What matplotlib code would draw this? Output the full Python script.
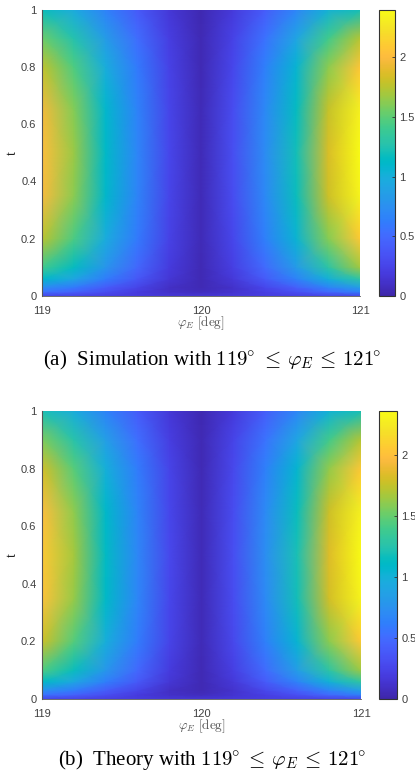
import numpy as np
import matplotlib
matplotlib.use("Agg")
import matplotlib.pyplot as plt
from matplotlib.colors import LinearSegmentedColormap

# ---------------- data ----------------
phi = [119.0, 119.2, 119.4, 119.6, 119.8, 120.0, 120.2, 120.4, 120.6, 120.8, 121.0]
t_vals = [0.0, 0.015, 0.03, 0.06, 0.1, 0.2, 0.35, 0.5, 0.65, 0.8, 0.9, 1.0]

sim_values = [
    [0.24, 0.23, 0.21, 0.19, 0.16, 0.15, 0.17, 0.20, 0.22, 0.23, 0.25],
    [0.55, 0.45, 0.31, 0.19, 0.11, 0.07, 0.13, 0.22, 0.33, 0.50, 0.65],
    [0.73, 0.60, 0.41, 0.25, 0.10, 0.04, 0.12, 0.27, 0.44, 0.67, 0.86],
    [1.11, 0.92, 0.62, 0.38, 0.15, 0.04, 0.17, 0.40, 0.66, 1.02, 1.32],
    [1.41, 1.16, 0.79, 0.48, 0.19, 0.04, 0.22, 0.50, 0.84, 1.30, 1.68],
    [1.76, 1.45, 0.98, 0.60, 0.24, 0.05, 0.27, 0.63, 1.05, 1.61, 2.09],
    [1.98, 1.63, 1.10, 0.67, 0.26, 0.05, 0.30, 0.70, 1.18, 1.81, 2.35],
    [2.02, 1.66, 1.12, 0.68, 0.27, 0.05, 0.31, 0.72, 1.20, 1.85, 2.40],
    [1.96, 1.61, 1.09, 0.66, 0.26, 0.05, 0.30, 0.70, 1.16, 1.79, 2.33],
    [1.78, 1.46, 0.99, 0.60, 0.24, 0.04, 0.27, 0.63, 1.06, 1.63, 2.07],
    [1.54, 1.26, 0.85, 0.52, 0.21, 0.04, 0.24, 0.55, 0.91, 1.41, 1.74],
    [1.18, 0.97, 0.65, 0.40, 0.16, 0.03, 0.18, 0.41, 0.68, 1.03, 1.20],
]

theory_values = [
    [0.24, 0.23, 0.21, 0.19, 0.16, 0.15, 0.17, 0.20, 0.22, 0.23, 0.25],
    [0.55, 0.45, 0.31, 0.19, 0.11, 0.07, 0.13, 0.22, 0.33, 0.49, 0.63],
    [0.74, 0.60, 0.41, 0.25, 0.10, 0.04, 0.12, 0.27, 0.44, 0.66, 0.85],
    [1.12, 0.92, 0.62, 0.38, 0.15, 0.04, 0.17, 0.40, 0.66, 1.01, 1.30],
    [1.43, 1.16, 0.79, 0.48, 0.19, 0.04, 0.22, 0.50, 0.84, 1.29, 1.65],
    [1.78, 1.45, 0.98, 0.60, 0.24, 0.05, 0.27, 0.63, 1.05, 1.60, 2.05],
    [2.01, 1.63, 1.10, 0.67, 0.26, 0.05, 0.30, 0.70, 1.18, 1.80, 2.31],
    [2.05, 1.66, 1.12, 0.68, 0.27, 0.05, 0.31, 0.72, 1.20, 1.84, 2.36],
    [1.99, 1.61, 1.09, 0.66, 0.26, 0.05, 0.30, 0.70, 1.16, 1.78, 2.29],
    [1.80, 1.46, 0.99, 0.60, 0.24, 0.04, 0.27, 0.63, 1.06, 1.62, 2.04],
    [1.56, 1.26, 0.85, 0.52, 0.21, 0.04, 0.24, 0.55, 0.91, 1.40, 1.71],
    [1.20, 0.97, 0.65, 0.40, 0.16, 0.03, 0.18, 0.41, 0.68, 1.02, 1.19],
]

x_ticks = [119, 120, 121]
x_ticklabels = ["119", "120", "121"]
y_ticks = [0, 0.2, 0.4, 0.6, 0.8, 1]
y_ticklabels = ["0", "0.2", "0.4", "0.6", "0.8", "1"]
cb_ticks = [0, 0.5, 1, 1.5, 2]
cb_ticklabels = ["0", "0.5", "1", "1.5", "2"]
captions = [r"(a)  Simulation with $119^{\!\!\circ}\,\leq\,\varphi_E\,\leq\,121^{\!\!\circ}$",
            r"(b)  Theory with $119^{\!\!\circ}\,\leq\,\varphi_E\,\leq\,121^{\!\!\circ}$"]

# ---------------- parula colormap ----------------
parula_rgb = [
    (0.2422, 0.1504, 0.6603), (0.2504, 0.1650, 0.7076), (0.2578, 0.1818, 0.7511),
    (0.2647, 0.1978, 0.7952), (0.2706, 0.2147, 0.8364), (0.2751, 0.2342, 0.8710),
    (0.2783, 0.2559, 0.8991), (0.2803, 0.2782, 0.9221), (0.2813, 0.3006, 0.9414),
    (0.2810, 0.3228, 0.9579), (0.2795, 0.3447, 0.9717), (0.2760, 0.3667, 0.9829),
    (0.2699, 0.3892, 0.9906), (0.2602, 0.4123, 0.9952), (0.2440, 0.4358, 0.9988),
    (0.2206, 0.4603, 0.9973), (0.1963, 0.4847, 0.9892), (0.1834, 0.5074, 0.9798),
    (0.1786, 0.5289, 0.9682), (0.1764, 0.5499, 0.9520), (0.1687, 0.5703, 0.9359),
    (0.1540, 0.5902, 0.9218), (0.1460, 0.6091, 0.9079), (0.1380, 0.6276, 0.8973),
    (0.1248, 0.6459, 0.8883), (0.1113, 0.6635, 0.8763), (0.0952, 0.6798, 0.8598),
    (0.0689, 0.6948, 0.8394), (0.0297, 0.7082, 0.8163), (0.0036, 0.7203, 0.7917),
    (0.0067, 0.7312, 0.7660), (0.0433, 0.7411, 0.7394), (0.0964, 0.7500, 0.7120),
    (0.1408, 0.7584, 0.6842), (0.1717, 0.7670, 0.6554), (0.1938, 0.7758, 0.6251),
    (0.2161, 0.7843, 0.5923), (0.2470, 0.7918, 0.5567), (0.2906, 0.7973, 0.5188),
    (0.3406, 0.8008, 0.4789), (0.3909, 0.8029, 0.4354), (0.4456, 0.8024, 0.3909),
    (0.5044, 0.7993, 0.3480), (0.5616, 0.7942, 0.3045), (0.6174, 0.7876, 0.2612),
    (0.6720, 0.7793, 0.2227), (0.7242, 0.7698, 0.1910), (0.7738, 0.7598, 0.1646),
    (0.8203, 0.7498, 0.1535), (0.8634, 0.7406, 0.1596), (0.9035, 0.7330, 0.1774),
    (0.9393, 0.7288, 0.2100), (0.9728, 0.7298, 0.2394), (0.9956, 0.7434, 0.2371),
    (0.9970, 0.7659, 0.2199), (0.9952, 0.7893, 0.2028), (0.9892, 0.8136, 0.1885),
    (0.9786, 0.8386, 0.1766), (0.9676, 0.8639, 0.1643), (0.9610, 0.8890, 0.1537),
    (0.9597, 0.9135, 0.1423), (0.9628, 0.9373, 0.1265), (0.9691, 0.9606, 0.1064),
    (0.9769, 0.9839, 0.0805)]
parula = LinearSegmentedColormap.from_list("parula", parula_rgb, N=256)

plt.rcParams["mathtext.fontset"] = "cm"

W, H = 415, 774
fig = plt.figure(figsize=(W / 100, H / 100), dpi=100)

def fx(px):
    return px / W

def fy(py):
    return 1 - py / H

tick_col = "#404040"

def panel(values, ax_box, cb_box, caption, cap_x, cap_y):
    l, t_, r, b = ax_box
    ax = fig.add_axes([fx(l), fy(b), fx(r - l), (b - t_) / H])
    Z = np.array(values)
    mesh = ax.pcolormesh(phi, t_vals, Z, shading="gouraud", cmap=parula,
                         vmin=0, vmax=Z.max())
    ax.set_xlim(119, 121)
    ax.set_ylim(0, 1)
    ax.set_xticks(x_ticks)
    ax.set_xticklabels(x_ticklabels)
    ax.set_yticks(y_ticks)
    ax.set_yticklabels(y_ticklabels)
    ax.tick_params(axis="y", length=0, labelsize=8, labelcolor=tick_col, pad=4,
                   labelfontfamily="Liberation Sans")
    ax.tick_params(axis="x", length=0, labelsize=8, labelcolor=tick_col, pad=7,
                   labelfontfamily="Liberation Sans")
    for s in ["top", "right"]:
        ax.spines[s].set_visible(False)
    ax.spines["left"].set_color("#555555")
    ax.spines["bottom"].set_color("#555555")
    ax.spines["left"].set_linewidth(0.8)
    ax.spines["bottom"].set_linewidth(0.6)
    ax.set_xlabel(r"$\varphi_E\ \mathrm{[deg]}$", fontsize=9.5, color="#505050")
    ax.xaxis.set_label_coords(0.5, -27.0 / (b - t_), transform=ax.transAxes)
    ax.xaxis.label.set_va("center")
    ax.set_ylabel("t", fontsize=10, color="#202020", family="Liberation Serif")
    ax.yaxis.set_label_coords((12 - l) / (r - l), 0.5, transform=ax.transAxes)
    ax.yaxis.label.set_va("center")

    cl, ct, cr, cbm = cb_box
    cax = fig.add_axes([fx(cl), fy(cbm), fx(cr - cl), (cbm - ct) / H])
    cb = fig.colorbar(mesh, cax=cax, ticks=cb_ticks)
    cb.ax.set_yticklabels(cb_ticklabels)
    cb.ax.tick_params(direction="in", length=2.5, width=0.6, labelsize=8,
                      labelcolor=tick_col, color="#333333", pad=3,
                      labelfontfamily="Liberation Sans")
    cb.outline.set_edgecolor("#333333")
    cb.outline.set_linewidth(0.8)

    fig.text(fx(cap_x), fy(cap_y), caption, ha="left", va="center",
             fontsize=15, family="Liberation Serif", color="black")

panel(sim_values, (42, 9.5, 360, 296), (378.7, 9.5, 395.3, 296), captions[0], 43, 360)
panel(theory_values, (42, 411, 361, 699), (379, 411, 397, 699), captions[1], 58, 760)

fig.savefig("out.png", dpi=100)
